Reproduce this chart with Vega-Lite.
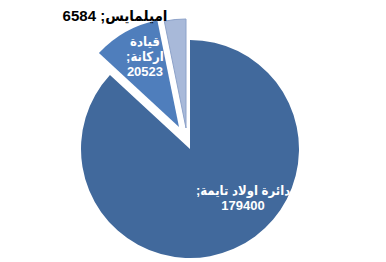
{
  "$schema": "https://vega.github.io/schema/vega-lite/v6.json",
  "autosize": {"type": "none"},
  "width": 218,
  "height": 218,
  "padding": {"left": 81, "top": 40, "right": 87, "bottom": 4},
  "background": "white",
  "config": {"view": {"stroke": null}},
  "data": {"values": [
    {"name": "دائرة اولاد تايمة", "value": 179400, "k": 1},
    {"name": "قيادة اركانة", "value": 20523, "k": 2},
    {"name": "اميلمايس", "value": 6584, "k": 3}
  ]},
  "encoding": {
    "theta": {"field": "value", "type": "quantitative", "stack": true},
    "order": {"field": "k", "type": "quantitative"}
  },
  "layer": [
    {
      "mark": {"type": "arc", "color": "#41699C"},
      "encoding": {"opacity": {"condition": {"test": "datum.k === 1", "value": 1}, "value": 0}}
    },
    {
      "mark": {"type": "arc", "color": "#4F7EBC", "xOffset": -11, "yOffset": -22},
      "encoding": {"opacity": {"condition": {"test": "datum.k === 2", "value": 1}, "value": 0}}
    },
    {
      "mark": {"type": "arc", "color": "#A8B9D9", "stroke": "#8DA2C9", "strokeWidth": 1, "xOffset": -4, "yOffset": -21},
      "encoding": {"opacity": {"condition": {"test": "datum.k === 3", "value": 1}, "value": 0}}
    },
    {
      "transform": [{"calculate": "datum.k === 3 ? datum.name + '; ' + datum.value : ''", "as": "lab"}],
      "mark": {"type": "text", "radius": 130, "dx": -62, "dy": -4, "font": "Liberation Sans, DejaVu Sans Condensed, DejaVu Sans", "fontSize": 15, "fontWeight": "bold", "color": "#000000", "align": "center", "baseline": "middle"},
      "encoding": {"text": {"field": "lab", "type": "nominal"}}
    },
    {
      "transform": [{"calculate": "datum.k === 2 ? [split(datum.name, ' ')[0], split(datum.name, ' ')[1] + ';\u200F', datum.value + ''] : ''", "as": "lab"}],
      "mark": {"type": "text", "radius": 100, "dx": 4, "dy": -20, "lineHeight": 15, "font": "Liberation Sans, DejaVu Sans Condensed, DejaVu Sans", "fontSize": 13, "fontWeight": "bold", "color": "#FFFFFF", "align": "center", "baseline": "middle"},
      "encoding": {"text": {"field": "lab", "type": "nominal"}}
    },
    {
      "transform": [{"calculate": "datum.k === 1 ? [datum.name + ';\u200F', datum.value + ''] : ''", "as": "lab"}],
      "mark": {"type": "text", "radius": 60, "dx": 29, "dy": -13, "lineHeight": 15, "font": "Liberation Sans, DejaVu Sans Condensed, DejaVu Sans", "fontSize": 13, "fontWeight": "bold", "color": "#FFFFFF", "align": "center", "baseline": "middle"},
      "encoding": {"text": {"field": "lab", "type": "nominal"}}
    }
  ]
}
